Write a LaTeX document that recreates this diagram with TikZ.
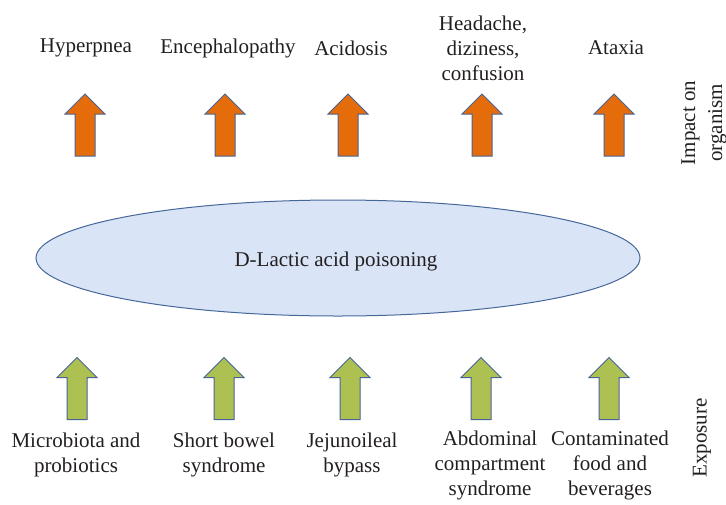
\documentclass[tikz,border=0pt]{standalone}
\usepackage{fontspec}
\setmainfont{Liberation Serif}
\definecolor{txt}{HTML}{231F20}
\definecolor{orng}{HTML}{E46C0A}
\definecolor{grn}{HTML}{ADC052}
\definecolor{edge}{HTML}{4A6396}
\definecolor{ellfill}{HTML}{D9E4F6}
\definecolor{elledge}{HTML}{46679A}
\tikzset{
  lbl/.style={align=center, text=txt, font=\fontsize{21}{25}\selectfont, inner sep=0pt},
  sidelbl/.style={lbl, rotate=90, font=\fontsize{21}{27}\selectfont},
  blockarrow/.pic={
    \path[pic actions] (0,-31) -- (20,-11) -- (10,-11) -- (10,31) -- (-10,31) -- (-10,-11) -- (-20,-11) -- cycle;
  },
  orarrow/.style={draw=edge, line width=1pt, fill=orng},
  grarrow/.style={draw=edge, line width=1pt, fill=grn}
}
\begin{document}
\begin{tikzpicture}[x=1pt, y=-1pt]
\useasboundingbox (0,0) rectangle (726,504);
% top labels
\node[lbl] (hyp) at (86,48) {Hyperpnea};
\node[lbl] (enc) at (228,48) {Encephalopathy};
\node[lbl] (aci) at (351,48) {Acidosis};
\node[lbl] (hea) at (483,48) {Headache,\\diziness,\\confusion};
\node[lbl] (ata) at (616,48) {Ataxia};
% orange arrows
\pic[orarrow] at (85,125) {blockarrow};
\pic[orarrow] at (225,125) {blockarrow};
\pic[orarrow] at (348,125) {blockarrow};
\pic[orarrow] at (482,125) {blockarrow};
\pic[orarrow] at (614,125) {blockarrow};
% central ellipse
\draw[draw=elledge, line width=1pt, fill=ellfill] (338,258) ellipse [x radius=302, y radius=58];
\node[lbl] (dla) at (336,261) {D-Lactic acid poisoning};
% green arrows
\pic[grarrow] at (77,388.5) {blockarrow};
\pic[grarrow] at (224,388.5) {blockarrow};
\pic[grarrow] at (350,388.5) {blockarrow};
\pic[grarrow] at (481,388.5) {blockarrow};
\pic[grarrow] at (609,388.5) {blockarrow};
% bottom labels
\node[lbl, anchor=north] (mic) at (76,433) {Microbiota and\\probiotics};
\node[lbl, anchor=north] (sho) at (224,433) {Short bowel\\syndrome};
\node[lbl, anchor=north] (jej) at (352,433) {Jejunoileal\\bypass};
\node[lbl, anchor=north] (abd) at (490,431) {Abdominal\\compartment\\syndrome};
\node[lbl, anchor=north] (con) at (610,431) {Contaminated\\food and\\beverages};
% side labels
\node[sidelbl] (imp) at (704,123) {Impact on\\organism};
\node[sidelbl] (exp) at (702,438) {Exposure};
\end{tikzpicture}
\end{document}
